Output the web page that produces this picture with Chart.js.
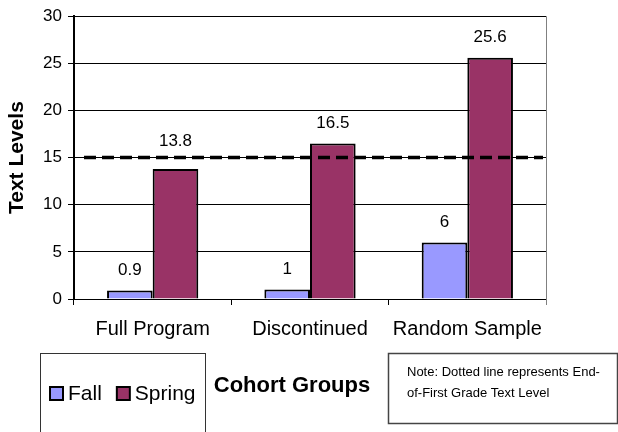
<!DOCTYPE html>
<html>
<head>
<meta charset="utf-8">
<script src="https://cdn.jsdelivr.net/npm/chart.js@4/dist/chart.umd.min.js"></script>
<style>
  body { margin: 0; background: #fff; }
  canvas { display: block; }
</style>
</head>
<body>
<canvas id="chart" width="618" height="432"></canvas>
<script>
// dati
const categories = ["Full Program", "Discontinued", "Random Sample"];
const fallValues = [0.9, 1, 6];
const springValues = [13.8, 16.5, 25.6];
const yTicks = [0, 5, 10, 15, 20, 25, 30];
const threshold = 15; // livello di fine prima elementare
const noteLines = ["Note: Dotted line represents End-", "of-First Grade Text Level"];

const FONT = "'Liberation Sans', Arial, sans-serif";

// linea tratteggiata, etichette valori, bordo destro
const extras = {
  id: "extras",
  beforeDatasetsDraw(chart) {
    const { ctx, chartArea } = chart;
    ctx.save();
    ctx.strokeStyle = "#808080";
    ctx.lineWidth = 1;
    ctx.beginPath();
    ctx.moveTo(chartArea.right + 0.5, chartArea.top);
    ctx.lineTo(chartArea.right + 0.5, chartArea.bottom + 6);
    ctx.stroke();
    ctx.restore();
  },
  afterDatasetsDraw(chart) {
    const { ctx, chartArea } = chart;
    const y = chart.scales.y;
    const lineY = y.getPixelForValue(threshold);
    ctx.save();
    ctx.strokeStyle = "#000";
    ctx.lineWidth = 3.5;
    ctx.setLineDash([12, 6]);
    ctx.beginPath();
    ctx.moveTo(chartArea.left + 10, lineY);
    ctx.lineTo(chartArea.right - 3, lineY);
    ctx.stroke();
    ctx.setLineDash([]);

    ctx.fillStyle = "#000";
    ctx.font = "17px " + FONT;
    ctx.textAlign = "center";
    ctx.textBaseline = "middle";
    chart.data.datasets.forEach((ds, i) => {
      chart.getDatasetMeta(i).data.forEach((bar, j) => {
        let ly = bar.y - 20;
        if (Math.abs(ly - lineY) < 14) ly = lineY - 16;
        ctx.fillText(String(ds.data[j]), bar.x, ly);
      });
    });
    ctx.restore();
  },
  afterDraw(chart) {
    const { ctx } = chart;
    ctx.save();
    // riquadro legenda
    ctx.strokeStyle = "#333";
    ctx.lineWidth = 1;
    ctx.strokeRect(40.5, 353.5, 165, 100);
    ctx.font = "21px " + FONT;
    ctx.textBaseline = "middle";
    ctx.textAlign = "left";
    let x = 50;
    chart.data.datasets.forEach(ds => {
      ctx.fillStyle = ds.backgroundColor;
      ctx.fillRect(x, 387, 13, 13);
      ctx.strokeStyle = "#000";
      ctx.lineWidth = 2;
      ctx.strokeRect(x, 387, 13, 13);
      ctx.fillStyle = "#000";
      ctx.fillText(ds.label, x + 18, 394);
      x += ctx.measureText(ds.label).width + 33;
    });

    // titolo asse x
    ctx.font = "bold 22px " + FONT;
    ctx.textAlign = "center";
    ctx.fillText("Cohort Groups", 292, 386);

    // nota
    ctx.strokeStyle = "#444";
    ctx.lineWidth = 1.5;
    ctx.strokeRect(388.5, 353.5, 229, 70);
    ctx.beginPath();
    ctx.rect(389, 354, 228, 68);
    ctx.clip();
    ctx.font = "13px " + FONT;
    ctx.textAlign = "left";
    noteLines.forEach((t, i) => ctx.fillText(t, 407, 372 + i * 21));
    ctx.restore();
  }
};

new Chart(document.getElementById("chart"), {
  type: "bar",
  data: {
    labels: categories,
    datasets: [
      { label: "Fall", data: fallValues, backgroundColor: "#9999FF", borderColor: "#000", borderWidth: 2 },
      { label: "Spring", data: springValues, backgroundColor: "#993366", borderColor: "#000", borderWidth: 2 }
    ]
  },
  options: {
    responsive: false,
    animation: false,
    devicePixelRatio: 1,
    layout: { padding: { top: 14, right: 72, left: 0, bottom: 0 } },
    datasets: { bar: { categoryPercentage: 0.58, barPercentage: 1 } },
    plugins: { legend: { display: false }, tooltip: { enabled: false } },
    scales: {
      x: {
        grid: { offset: true, drawOnChartArea: false, color: "#000", tickLength: 6 },
        border: { color: "#000", width: 1 },
        ticks: { color: "#000", font: { size: 20, family: FONT }, padding: 12, maxRotation: 0 },
        afterFit: s => { s.height = 133; }
      },
      y: {
        min: 0,
        max: 30,
        afterBuildTicks: s => { s.ticks = yTicks.map(v => ({ value: v })); },
        grid: { color: "#000", tickLength: 6 },
        border: { color: "#000", width: 2 },
        ticks: { color: "#000", font: { size: 17, family: FONT }, padding: 6 },
        title: {
          display: true,
          text: "Text Levels",
          color: "#000",
          font: { size: 21, weight: "bold", family: FONT },
          padding: { top: 5, bottom: 0 }
        },
        afterFit: s => { s.width = 74; }
      }
    }
  },
  plugins: [extras]
});
</script>
</body>
</html>
